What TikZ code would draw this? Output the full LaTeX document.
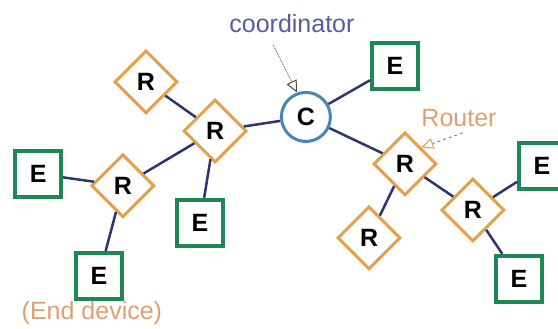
\documentclass[tikz,border=0pt]{standalone}
\usepackage{fontspec}
\setmainfont{Liberation Sans}
\usetikzlibrary{shapes.geometric,arrows.meta}

\definecolor{endgreen}{RGB}{30,135,85}
\definecolor{routerorange}{RGB}{228,160,75}
\definecolor{coordblue}{RGB}{70,135,185}
\definecolor{linknavy}{RGB}{45,52,110}
\definecolor{notepurple}{RGB}{90,90,165}
\definecolor{noteorange}{RGB}{222,160,115}

\begin{document}
\begin{tikzpicture}[
    enddev/.style={draw=endgreen, line width=4pt, fill=white, minimum size=46pt,
      inner sep=0pt, font=\fontsize{25}{28}\selectfont\bfseries},
    router/.style={draw=routerorange, line width=3pt, fill=white, diamond,
      minimum size=63pt, inner sep=0pt, font=\fontsize{25}{28}\selectfont\bfseries},
    coord/.style={draw=coordblue, line width=3pt, fill=white, circle,
      minimum size=49pt, inner sep=0pt, font=\fontsize{25}{28}\selectfont\bfseries},
    link/.style={draw=linknavy, line width=2.5pt},
    note/.style={font=\fontsize{25}{30}\selectfont, anchor=base}
  ]
    \useasboundingbox (0, 0) rectangle (19.61, 11.56);

    % coordinator
    \node[coord] (C) at (10.75, 7.45) {C};

    % routers
    \node[router] (R1) at (5.13, 8.68) {R};
    \node[router] (R2) at (7.56, 6.96) {R};
    \node[router] (R3) at (4.32, 5.03) {R};
    \node[router] (R4) at (14.23, 5.80) {R};
    \node[router] (R5) at (16.62, 4.18) {R};
    \node[router] (R6) at (12.97, 3.20) {R};

    % end devices
    \node[enddev] (E1) at (1.34, 5.45) {E};
    \node[enddev] (E2) at (3.48, 1.86) {E};
    \node[enddev] (E3) at (7.03, 3.73) {E};
    \node[enddev] (E4) at (13.88, 9.24) {E};
    \node[enddev] (E5) at (19.05, 5.73) {E};
    \node[enddev] (E6) at (18.24, 1.76) {E};

    % links
    \draw[link] (C) -- (R2);
    \draw[link] (C) -- (E4);
    \draw[link] (C) -- (R4);
    \draw[link] (R2) -- (R1);
    \draw[link] (R2) -- (R3);
    \draw[link] (R2) -- (E3);
    \draw[link] (R3) -- (E1);
    \draw[link] (R3) -- (E2);
    \draw[link] (R4) -- (R6);
    \draw[link] (R4) -- (R5);
    \draw[link] (R5) -- (E5);
    \draw[link] (R5) -- (E6);

    % notes
    \node[note, text=notepurple] (coordnote) at (10.26, 10.40) {coordinator};
    \node[note, text=noteorange] (routernote) at (16.13, 7.10) {Router};
    \node[note, text=noteorange] (endnote) at (3.23, 0.32) {(End device)};
    \coordinate (ctail) at (9.60, 9.98);
    \coordinate (rtail) at (16.27, 6.89);
    \draw[densely dotted, line width=0.8pt, draw=black!70,
      -{Triangle[open, length=12pt, width=11pt, line width=1pt]}] (ctail) -- (C.110);
    \draw[dashed, line width=0.8pt, draw=black!55,
      -{Triangle[open, length=12pt, width=11pt, line width=1pt, color=routerorange]}] (rtail) -- (R4.45);
  \end{tikzpicture}
\end{document}
